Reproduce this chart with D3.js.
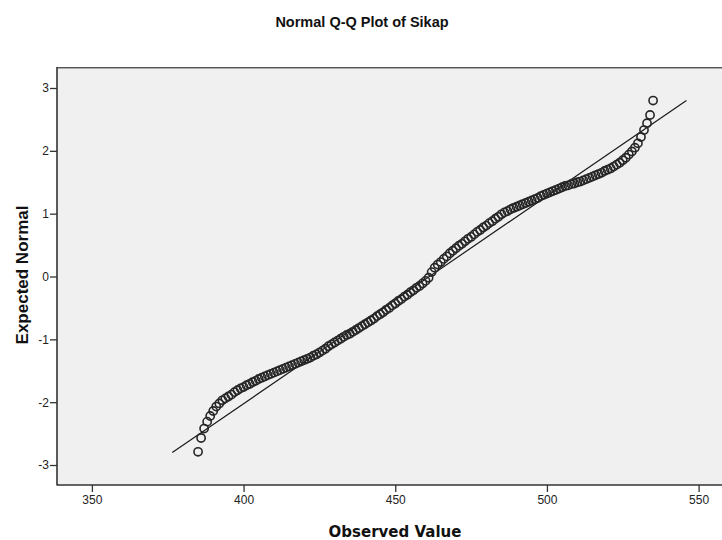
<!DOCTYPE html>
<html>
<head>
<meta charset="utf-8">
<script src="https://cdn.jsdelivr.net/npm/d3@7"></script>
<style>
  html, body { margin: 0; padding: 0; background: #ffffff; overflow: hidden; }
  svg { display: block; }
</style>
</head>
<body>
<svg id="chart" width="722" height="540"></svg>
<script>
// ---- data ----
const chartTitle = "Normal Q-Q Plot of Sikap";
const xLabel = "Observed Value";
const yLabel = "Expected Normal";

const xTicks = [350, 400, 450, 500, 550];
const yTicks = [-3, -2, -1, 0, 1, 2, 3];

const observed = [
  385, 386, 387, 388, 389, 390, 391, 392, 393, 394, 395, 396, 397, 398, 399,
  400, 401, 402, 403, 404, 405, 406, 407, 408, 409, 410, 411, 412, 413, 414,
  415, 416, 417, 418, 419, 420, 421, 422, 423, 424, 425, 426, 427, 428, 429,
  430, 431, 432, 433, 434, 435, 436, 437, 438, 439, 440, 441, 442, 443, 444,
  445, 446, 447, 448, 449, 450, 451, 452, 453, 454, 455, 456, 457, 458, 459,
  460, 461, 462, 463, 464, 465, 466, 467, 468, 469, 470, 471, 472, 473, 474,
  475, 476, 477, 478, 479, 480, 481, 482, 483, 484, 485, 486, 487, 488, 489,
  490, 491, 492, 493, 494, 495, 496, 497, 498, 499, 500, 501, 502, 503, 504,
  505, 506, 507, 508, 509, 510, 511, 512, 513, 514, 515, 516, 517, 518, 519,
  520, 521, 522, 523, 524, 525, 526, 527, 528, 529, 530, 531, 532, 533, 534,
  535
];

const expectedNormal = [
  -2.79, -2.57, -2.42, -2.31, -2.22, -2.14, -2.07, -2.02, -1.97, -1.94, -1.91, -1.88, -1.84, -1.81, -1.78,
  -1.76, -1.73, -1.71, -1.68, -1.66, -1.63, -1.61, -1.59, -1.57, -1.55, -1.53, -1.51, -1.49, -1.47, -1.45,
  -1.43, -1.41, -1.39, -1.37, -1.35, -1.33, -1.31, -1.29, -1.26, -1.24, -1.21, -1.18, -1.15, -1.11, -1.08,
  -1.05, -1.02, -0.99, -0.96, -0.93, -0.91, -0.88, -0.85, -0.82, -0.79, -0.76, -0.73, -0.70, -0.67, -0.63,
  -0.60, -0.57, -0.53, -0.50, -0.46, -0.43, -0.39, -0.36, -0.32, -0.29, -0.25, -0.22, -0.18, -0.15, -0.11,
  -0.07, -0.02, 0.07, 0.14, 0.19, 0.23, 0.28, 0.32, 0.37, 0.41, 0.45, 0.49, 0.52, 0.56, 0.60,
  0.63, 0.67, 0.71, 0.74, 0.78, 0.81, 0.85, 0.88, 0.92, 0.95, 0.99, 1.02, 1.04, 1.07, 1.09,
  1.11, 1.13, 1.15, 1.17, 1.19, 1.21, 1.23, 1.25, 1.28, 1.30, 1.32, 1.34, 1.36, 1.38, 1.40,
  1.42, 1.44, 1.45, 1.47, 1.48, 1.50, 1.51, 1.53, 1.55, 1.57, 1.59, 1.61, 1.63, 1.65, 1.68,
  1.70, 1.72, 1.75, 1.78, 1.81, 1.85, 1.89, 1.94, 1.99, 2.05, 2.12, 2.22, 2.33, 2.44, 2.57,
  2.80
];

// reference line (normal fit) end points
const lineX = [376.5, 546.0];
const lineZ = [-2.80, 2.80];

// ---- layout ----
const svg = d3.select("#chart");
const plot = { left: 57, top: 67, right: 735, bottom: 485 };

const x = d3.scaleLinear().domain([338.5, 562]).range([plot.left, plot.right]);
const y = d3.scaleLinear().domain([-3.318, 3.334]).range([plot.bottom, plot.top]);

// plot background
svg.append("rect")
  .attr("x", plot.left).attr("y", plot.top)
  .attr("width", plot.right - plot.left).attr("height", plot.bottom - plot.top)
  .attr("fill", "#f0f0f0");

// top border
svg.append("line")
  .attr("x1", plot.left).attr("x2", plot.right)
  .attr("y1", plot.top + 0.5).attr("y2", plot.top + 0.5)
  .attr("stroke", "#555").attr("stroke-width", 1);
svg.append("line")
  .attr("x1", plot.left).attr("x2", plot.right)
  .attr("y1", plot.top + 1.5).attr("y2", plot.top + 1.5)
  .attr("stroke", "#aaa").attr("stroke-width", 1);

// clip for marks
svg.append("clipPath").attr("id", "clip")
  .append("rect")
  .attr("x", plot.left).attr("y", plot.top)
  .attr("width", plot.right - plot.left).attr("height", plot.bottom - plot.top);

const marks = svg.append("g").attr("clip-path", "url(#clip)");

// reference line
marks.append("line")
  .attr("x1", x(lineX[0])).attr("y1", y(lineZ[0]))
  .attr("x2", x(lineX[1])).attr("y2", y(lineZ[1]))
  .attr("stroke", "#1a1a1a").attr("stroke-width", 1.2);

// points
const pts = observed.map((v, i) => ({ v, z: expectedNormal[i] }));
marks.append("g")
  .selectAll("circle")
  .data(pts)
  .join("circle")
  .attr("cx", d => x(d.v))
  .attr("cy", d => y(d.z))
  .attr("r", 4.1)
  .attr("fill", "none")
  .attr("stroke", "#262626")
  .attr("stroke-width", 1.6);

// axes
const axisFont = "'Liberation Sans', Arial, sans-serif";

const xAxis = svg.append("g")
  .attr("transform", `translate(0,${plot.bottom})`)
  .call(d3.axisBottom(x).tickValues(xTicks).tickFormat(d => String(d)).tickSize(7).tickPadding(3));
const yAxis = svg.append("g")
  .attr("transform", `translate(${plot.left},0)`)
  .call(d3.axisLeft(y).tickValues(yTicks).tickFormat(d => String(d)).tickSize(7).tickPadding(1));

[xAxis, yAxis].forEach(a => {
  a.select(".domain").remove();
  a.selectAll("line").attr("stroke", "#333").attr("stroke-width", 1.3);
  a.selectAll("text")
    .attr("fill", "#222")
    .style("font-family", axisFont)
    .style("font-size", "12px");
});

// axis lines
svg.append("line")
  .attr("x1", plot.left).attr("x2", plot.left)
  .attr("y1", plot.top).attr("y2", plot.bottom + 0.5)
  .attr("stroke", "#333").attr("stroke-width", 1.6);
svg.append("line")
  .attr("x1", plot.left).attr("x2", plot.right)
  .attr("y1", plot.bottom).attr("y2", plot.bottom)
  .attr("stroke", "#333").attr("stroke-width", 1.6);

// title
svg.append("text")
  .attr("x", 362).attr("y", 27)
  .attr("text-anchor", "middle")
  .style("font-family", axisFont)
  .style("font-weight", "bold")
  .style("font-size", "14.5px")
  .attr("fill", "#111")
  .text(chartTitle);

// x label
svg.append("text")
  .attr("x", 395).attr("y", 537)
  .attr("text-anchor", "middle")
  .style("font-family", "'DejaVu Sans', Verdana, sans-serif")
  .style("font-weight", "bold")
  .style("font-size", "15px")
  .attr("fill", "#111")
  .text(xLabel);

// y label
svg.append("text")
  .attr("transform", "translate(28,275) rotate(-90)")
  .attr("text-anchor", "middle")
  .style("font-family", axisFont)
  .style("font-weight", "bold")
  .style("font-size", "17px")
  .attr("fill", "#111")
  .text(yLabel);
</script>
</body>
</html>
